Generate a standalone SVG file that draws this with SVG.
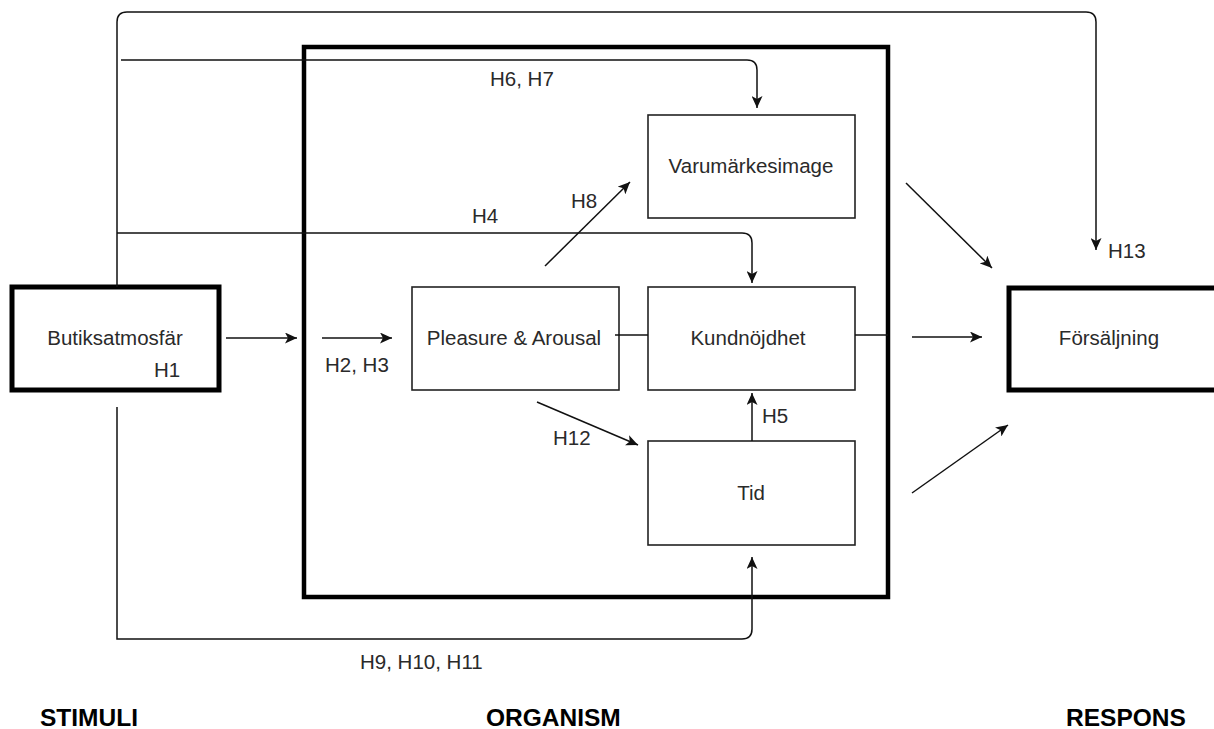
<svg xmlns="http://www.w3.org/2000/svg" width="1214" height="729" viewBox="0 0 1214 729">
<style>
.bg{fill:#fff}
.box{fill:#fff;stroke:#222;stroke-width:1.6}
.thick{fill:#fff;stroke:#000;stroke-width:5}
.org{fill:none;stroke:#000;stroke-width:4.5}
.t{font-family:"Liberation Sans",Arial,sans-serif;font-size:20.5px;fill:#2a2a2a}
.c{text-anchor:middle}
.b{font-family:"Liberation Sans",Arial,sans-serif;font-size:24.5px;font-weight:bold;fill:#000}
.e{fill:none;stroke:#111;stroke-width:1.5}
</style>
<defs>
<marker id="ah" markerUnits="userSpaceOnUse" markerWidth="13" markerHeight="11" refX="12" refY="5.5" orient="auto">
<path d="M0,0 L12,5.5 L0,11 L3,5.5 Z" fill="#111"/>
</marker>
</defs>
<rect class="bg" x="0" y="0" width="1214" height="729"/>
<g id="organism">
<rect class="org" x="304" y="47" width="584" height="550"/>
</g>
<g id="n-butiksatmosfar">
<rect class="thick" x="12" y="287" width="207" height="103"/>
<text class="t c" x="115" y="345">Butiksatmosfär</text>
<text class="t" x="154" y="377">H1</text>
</g>
<g id="n-pleasure">
<rect class="box" x="412" y="287" width="207" height="103"/>
<text class="t c" x="514" y="345">Pleasure &amp; Arousal</text>
</g>
<g id="n-varumarkesimage">
<rect class="box" x="648" y="115" width="207" height="103"/>
<text class="t c" x="751" y="173">Varumärkesimage</text>
</g>
<g id="n-kundnojdhet">
<rect class="box" x="648" y="287" width="207" height="103"/>
<text class="t c" x="748" y="345">Kundnöjdhet</text>
</g>
<g id="n-tid">
<rect class="box" x="648" y="441" width="207" height="104"/>
<text class="t c" x="751" y="500">Tid</text>
</g>
<g id="n-forsaljning">
<rect class="thick" x="1009" y="288" width="210" height="102"/>
<text class="t c" x="1109" y="345">Försäljning</text>
</g>
<g id="connectors">
<path class="e" d="M117,287 V22 Q117,12 127,12 H1086 Q1096,12 1096,22 V250" marker-end="url(#ah)"/>
<path class="e" d="M117,407 V639 H742 Q752,639 752,629 V557" marker-end="url(#ah)"/>
<path class="e" d="M117,233 H742 Q752,233 752,243 V283" marker-end="url(#ah)"/>
<path class="e" d="M121,60 H747 Q757,60 757,70 V108" marker-end="url(#ah)"/>
<path class="e" d="M226,338 H297" marker-end="url(#ah)"/>
<path class="e" d="M322,338 H392" marker-end="url(#ah)"/>
<path class="e" d="M615,335 H648"/>
<path class="e" d="M855,335 H888"/>
<path class="e" d="M912,337 H982" marker-end="url(#ah)"/>
<path class="e" d="M545,266 L630,182" marker-end="url(#ah)"/>
<path class="e" d="M537,402 L638,445" marker-end="url(#ah)"/>
<path class="e" d="M752,441 V393" marker-end="url(#ah)"/>
<path class="e" d="M906,183 L992,268" marker-end="url(#ah)"/>
<path class="e" d="M912,493 L1008,425" marker-end="url(#ah)"/>
<text class="t" x="490" y="86">H6, H7</text>
<text class="t" x="472" y="223">H4</text>
<text class="t" x="571" y="208">H8</text>
<text class="t" x="325" y="372">H2, H3</text>
<text class="t" x="553" y="445">H12</text>
<text class="t" x="762" y="423">H5</text>
<text class="t" x="1108" y="258">H13</text>
<text class="t" x="360" y="669">H9, H10, H11</text>
</g>
<g id="labels">
<text class="b" x="40" y="726">STIMULI</text>
<text class="b" x="486" y="726">ORGANISM</text>
<text class="b" x="1066" y="726">RESPONS</text>
</g>
</svg>
